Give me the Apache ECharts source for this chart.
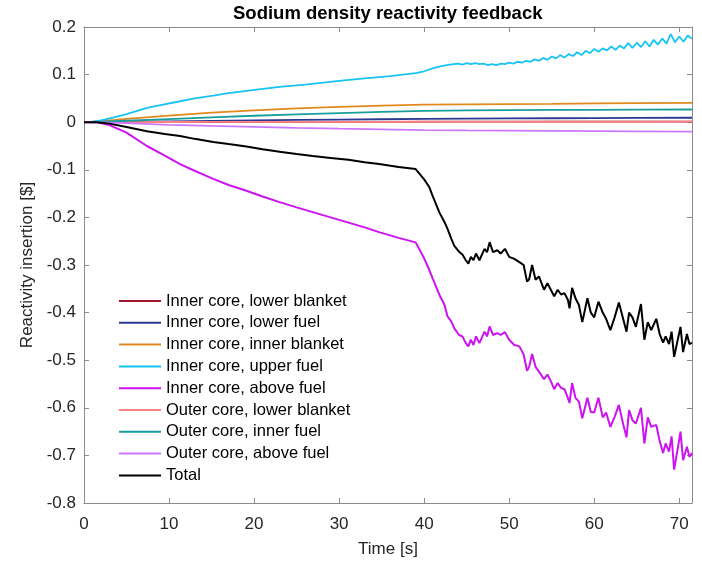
<!DOCTYPE html>
<html>
<head>
<meta charset="utf-8">
<script src="https://cdn.jsdelivr.net/npm/echarts@6/dist/echarts.min.js"></script>
<style>
  html, body { margin: 0; padding: 0; background: #fff; }
  #chart { width: 702px; height: 563px; }
</style>
</head>
<body>
<div id="chart"></div>
<script>
// tempos (s) para Total e Inner core, above fuel
const tMain = [
  0, 1.5, 3, 5, 7.4, 9.5, 11.3, 13, 15.2, 17,
  19.1, 21, 23, 25, 26.9, 29, 31.1, 31.3, 33, 34.7,
  37, 39, 40, 40.6, 41, 41.8, 42.4, 42.75, 43.2, 43.55,
  44.1, 44.5, 44.9, 45.2, 45.5, 45.8, 46.1, 46.5, 47.1, 47.4,
  47.7, 48.1, 48.6, 49.0, 49.5, 50.0, 50.6, 51.2, 51.7, 52.1,
  52.35, 52.7, 53.1, 53.5, 54.1, 54.5, 54.9, 55.3, 55.7, 56.1,
  56.5, 56.9, 57.1, 57.4, 57.8, 58.2, 58.6, 59.2, 59.6, 60.0,
  60.5, 61.0, 61.4, 61.9, 62.4, 62.9, 63.4, 63.8, 64.1, 64.5,
  64.9, 65.5, 65.9, 66.3, 66.7, 67.3, 67.7, 68.1, 68.4, 68.8,
  69.1, 69.4, 69.8, 70.15, 70.45, 70.9, 71.2, 71.5
];
const totalVals = [
  0, 0, -0.003, -0.01, -0.019, -0.025, -0.029, -0.035, -0.0415, -0.046,
  -0.051, -0.057, -0.062, -0.067, -0.071, -0.075, -0.079, -0.078, -0.084, -0.088,
  -0.094, -0.0985, -0.12, -0.136, -0.155, -0.19, -0.21, -0.224, -0.245, -0.26,
  -0.272, -0.278, -0.29, -0.297, -0.283, -0.29, -0.276, -0.29, -0.266, -0.273,
  -0.252, -0.273, -0.269, -0.276, -0.266, -0.283, -0.287, -0.294, -0.30, -0.335,
  -0.33, -0.30, -0.331, -0.324, -0.352, -0.338, -0.352, -0.366, -0.352, -0.362,
  -0.359, -0.373, -0.391, -0.348, -0.37, -0.384, -0.42, -0.37, -0.40, -0.41,
  -0.377, -0.40, -0.413, -0.437, -0.41, -0.379, -0.413, -0.44, -0.40, -0.41,
  -0.43, -0.382, -0.457, -0.42, -0.437, -0.413, -0.445, -0.463, -0.45, -0.466,
  -0.44, -0.493, -0.459, -0.43, -0.483, -0.445, -0.466, -0.463
];
const icAboveFuel = [
  0, 0, -0.006, -0.022, -0.05, -0.07, -0.088, -0.102, -0.119, -0.132,
  -0.144, -0.156, -0.168, -0.179, -0.189, -0.2, -0.211, -0.212, -0.221, -0.231,
  -0.243, -0.2525, -0.286, -0.31, -0.328, -0.363, -0.384, -0.408, -0.419, -0.433,
  -0.447, -0.45, -0.464, -0.471, -0.457, -0.468, -0.45, -0.464, -0.44, -0.45,
  -0.429, -0.447, -0.443, -0.447, -0.441, -0.457, -0.468, -0.471, -0.488, -0.522,
  -0.514, -0.487, -0.514, -0.524, -0.54, -0.53, -0.544, -0.561, -0.548, -0.558,
  -0.561, -0.579, -0.59, -0.548, -0.579, -0.587, -0.622, -0.579, -0.609, -0.61,
  -0.579, -0.62, -0.61, -0.64, -0.619, -0.594, -0.634, -0.662, -0.605, -0.626,
  -0.633, -0.60, -0.675, -0.62, -0.64, -0.636, -0.67, -0.695, -0.675, -0.692,
  -0.66, -0.73, -0.688, -0.65, -0.71, -0.682, -0.703, -0.695
];

// Inner core, upper fuel
const tCyan = [
  0, 1, 2, 3.4, 5, 7.4, 9, 11.3, 13, 15.2, 17, 20.3, 23, 26, 30, 33, 36, 39, 40, 41, 42, 43,
  44, 44.5, 45, 45.5, 46, 46.5, 47, 47.5, 48, 48.5, 49, 49.5, 50, 50.5, 51, 51.5,
  52, 52.5, 53, 53.5, 54, 54.5, 55, 55.5, 56, 56.5, 57, 57.5, 58, 58.5, 59, 59.5,
  60, 60.5, 61, 61.5, 62, 62.5, 63, 63.5, 64, 64.5, 65, 65.5, 66, 66.5, 67, 67.5,
  68, 68.5, 69, 69.5, 70, 70.5, 71, 71.5
];
const icUpperFuel = [
  0, 0.001, 0.004, 0.0094, 0.017, 0.03, 0.036, 0.044, 0.05, 0.056, 0.061, 0.0685, 0.074, 0.079,
  0.087, 0.092, 0.097, 0.103, 0.107, 0.113, 0.118, 0.121,
  0.123, 0.121, 0.124, 0.122, 0.124, 0.122, 0.123, 0.12, 0.122, 0.12, 0.123, 0.122, 0.125, 0.123,
  0.127, 0.125, 0.129, 0.127, 0.132, 0.129, 0.135, 0.131, 0.138, 0.134, 0.141, 0.136, 0.143, 0.139,
  0.147, 0.141, 0.15, 0.145, 0.154, 0.148, 0.155, 0.151, 0.159, 0.152, 0.161, 0.155, 0.166, 0.156,
  0.167, 0.158, 0.170, 0.159, 0.173, 0.163, 0.176, 0.165, 0.185, 0.168, 0.18, 0.169, 0.182, 0.175
];

// curvas suaves
const tSmooth = [0, 2, 5, 10, 15, 20, 25, 30, 35, 40, 45, 50, 55, 60, 65, 71.5];
const icLowerBlanket = [0, 0, 0, 0.0002, 0.0004, 0.0005, 0.0006, 0.0007, 0.0008, 0.0009, 0.001, 0.001, 0.001, 0.0011, 0.0011, 0.0012];
const icLowerFuel = [0, 0, 0.0008, 0.0018, 0.0028, 0.0038, 0.0047, 0.0055, 0.0062, 0.0068, 0.0074, 0.0079, 0.0083, 0.0087, 0.009, 0.0094];
const icInnerBlanket = [0, 0.002, 0.007, 0.014, 0.02, 0.025, 0.029, 0.032, 0.035, 0.037, 0.0375, 0.038, 0.0385, 0.0395, 0.04, 0.0405];
const ocLowerBlanket = [0, 0, 0.0002, 0.0004, 0.0005, 0.0006, 0.0006, 0.0007, 0.0007, 0.0008, 0.0008, 0.0008, 0.0009, 0.0009, 0.0009, 0.001];
const ocInnerFuel = [0, 0.001, 0.003, 0.0065, 0.0103, 0.0135, 0.0165, 0.019, 0.0215, 0.0238, 0.0248, 0.0253, 0.0257, 0.026, 0.0263, 0.0267];
const ocAboveFuel = [0, -0.0005, -0.002, -0.0055, -0.0078, -0.0098, -0.0118, -0.0135, -0.015, -0.0165, -0.0172, -0.0178, -0.0184, -0.0189, -0.0194, -0.0199];

const xTicks = [0, 10, 20, 30, 40, 50, 60, 70];

const zip = (t, v) => t.map((x, i) => [x, v[i]]);

const seriesDefs = [
  { name: 'Inner core, lower blanket', t: tSmooth, v: icLowerBlanket, color: '#a2142f', w: 1.8 },
  { name: 'Inner core, lower fuel', t: tSmooth, v: icLowerFuel, color: '#2a3a93', w: 1.8 },
  { name: 'Inner core, inner blanket', t: tSmooth, v: icInnerBlanket, color: '#e08a1e', w: 1.8 },
  { name: 'Inner core, upper fuel', t: tCyan, v: icUpperFuel, color: '#17c4f3', w: 1.8 },
  { name: 'Inner core, above fuel', t: tMain, v: icAboveFuel, color: '#cc13f0', w: 2 },
  { name: 'Outer core, lower blanket', t: tSmooth, v: ocLowerBlanket, color: '#ff8585', w: 1.8 },
  { name: 'Outer core, inner fuel', t: tSmooth, v: ocInnerFuel, color: '#1a9e9b', w: 1.8 },
  { name: 'Outer core, above fuel', t: tSmooth, v: ocAboveFuel, color: '#cc77ff', w: 1.8 },
  { name: 'Total', t: tMain, v: totalVals, color: '#000000', w: 2 }
];

const font = '"Liberation Sans", Arial, sans-serif';
const axisGray = '#8c8c8c';
const textCol = '#262626';

const chart = echarts.init(document.getElementById('chart'));

const baseX = {
  type: 'value', min: 0, max: 71.5, interval: 10,
  axisLine: { show: true, onZero: false, lineStyle: { color: axisGray, width: 1 } },
  axisTick: { show: true, inside: true, length: 5, lineStyle: { color: axisGray } },
  splitLine: { show: false }
};
const baseY = {
  type: 'value', min: -0.8, max: 0.2, interval: 0.1,
  axisLine: { show: true, onZero: false, lineStyle: { color: axisGray, width: 1 } },
  axisTick: { show: true, inside: true, length: 5, lineStyle: { color: axisGray } },
  splitLine: { show: false }
};

chart.setOption({
  backgroundColor: '#fff',
  animation: false,
  title: {
    text: 'Sodium density reactivity feedback',
    left: 233, top: 4, padding: 0,
    textStyle: { fontFamily: font, fontSize: 18.5, fontWeight: 'bold', color: '#000' }
  },
  grid: { left: 84, right: 10, top: 27, bottom: 57, containLabel: false },
  legend: {
    orient: 'vertical', left: 119, top: 292.5, padding: 0,
    icon: 'rect', itemWidth: 42, itemHeight: 2, itemGap: 4.8,
    textStyle: { fontFamily: font, fontSize: 16.5, lineHeight: 16, color: '#000' },
    data: seriesDefs.map(s => s.name)
  },
  xAxis: [
    Object.assign({}, baseX, {
      position: 'bottom',
      name: 'Time [s]', nameLocation: 'middle', nameGap: 38,
      nameTextStyle: { fontFamily: font, fontSize: 17, color: textCol },
      axisLabel: {
        fontFamily: font, fontSize: 17, color: textCol, margin: 13, showMaxLabel: false,
        formatter: v => xTicks.indexOf(v) >= 0 ? String(v) : ''
      }
    }),
    Object.assign({}, baseX, { position: 'top', axisLabel: { show: false } })
  ],
  yAxis: [
    Object.assign({}, baseY, {
      position: 'left',
      name: 'Reactivity insertion [$]', nameLocation: 'middle', nameGap: 43,
      nameTextStyle: { fontFamily: font, fontSize: 17, color: textCol },
      axisLabel: {
        fontFamily: font, fontSize: 17, color: textCol, margin: 8,
        formatter: v => String(Math.round(v * 10) / 10)
      }
    }),
    Object.assign({}, baseY, { position: 'right', axisLabel: { show: false } })
  ],
  series: seriesDefs.map(s => ({
    name: s.name,
    type: 'line',
    data: zip(s.t, s.v),
    symbol: 'none',
    smooth: false,
    lineStyle: { color: s.color, width: s.w },
    itemStyle: { color: s.color }
  }))
});
</script>
</body>
</html>
